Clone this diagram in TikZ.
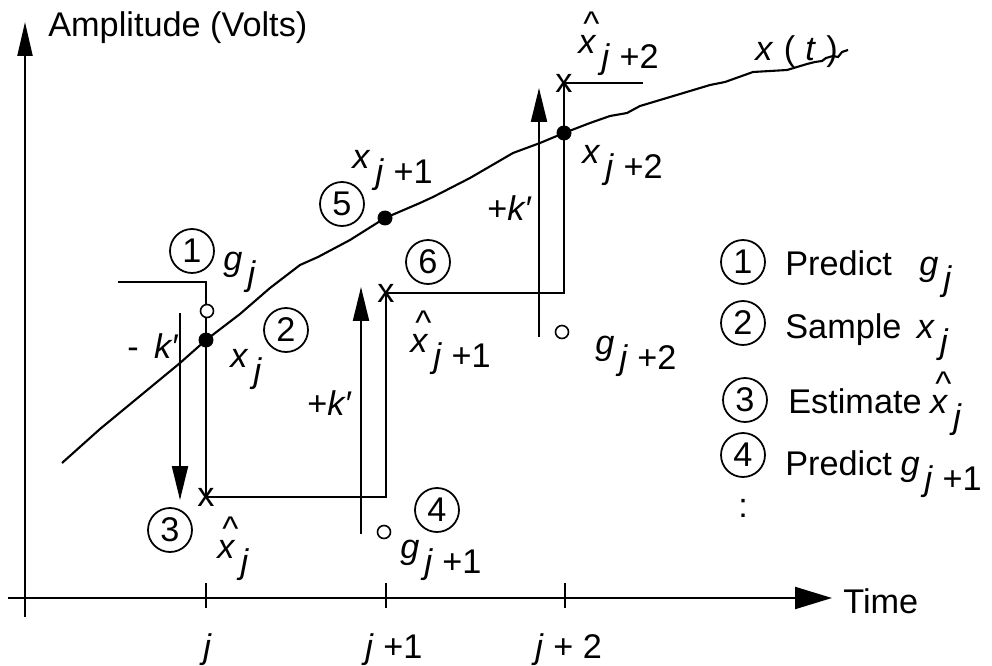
\documentclass[tikz,border=0pt]{standalone}
\usepackage{fontspec}
\setmainfont{Liberation Sans}
\usetikzlibrary{arrows.meta}

\newcommand{\lowsub}[2]{#1\hspace{0.15em}\raisebox{-0.45em}{#2}}
\newcommand{\xhat}{\makebox[0pt][l]{\hspace{0.15em}\raisebox{0.5em}{\textasciicircum}}\textit{x}}

\begin{document}
\begin{tikzpicture}[x=0.02cm, y=-0.02cm, font=\fontsize{19.5}{23}\selectfont]
    \tikzset{
        axis/.style={line width=1.25pt},
        stair/.style={line width=1.2pt},
        karrow/.style={line width=1.2pt, -{Triangle[length=0.68cm,width=0.32cm]}},
        sample/.style={circle, fill=black, minimum size=0.3cm, inner sep=0pt},
        pred/.style={circle, draw, fill=white, line width=0.9pt, minimum size=0.26cm, inner sep=0pt},
        xmark/.style={inner sep=0pt},
        num/.style={circle, draw, line width=1pt, minimum size=0.88cm, inner sep=0pt},
        lbl/.style={anchor=base west, inner sep=0pt}
    }

    \useasboundingbox (0,0) rectangle (992,666);

    % Draw axes
    \coordinate (yb) at (25,617);
    \coordinate (yt) at (25,22);
    \coordinate (tl) at (8,598);
    \coordinate (tr) at (832,598);
    \draw[axis, -{Triangle[length=0.68cm,width=0.3cm]}] (yb) -- (yt);
    \draw[axis, -{Triangle[length=0.74cm,width=0.44cm]}] (tl) -- (tr);
    \node[lbl] (ylab) at (48,36) {Amplitude (Volts)};
    \node[lbl] (tlab) at (843,613) {Time};

    % Ticks and their labels
    \foreach \tx in {206,386,565}
        \draw[axis] (\tx,583) -- (\tx,608);
    \node[lbl] (tk0) at (203,658) {\textit{j}};
    \node[lbl] (tk1) at (365,658) {\textit{j} +1};
    \node[lbl] (tk2) at (535,658) {\textit{j} + 2};

    % Signal x(t)
    \draw[stair] plot coordinates {(62,463) (100,429) (140,396) (180,363) (206,340)
        (240,314) (270,288) (300,265) (318,257) (350,240) (385,218) (420,203)
        (433,197) (470,178) (513,153) (540,143) (564,133) (590,123) (610,116)
        (627,113) (640,106) (670,97) (710,85) (725,82) (753,72) (787,70)
        (807,64) (815,62) (822,61) (826,58) (833,56) (838,57) (842,52) (848,50)};
    \node[lbl] (xt) at (755,60) {\textit{x}\hspace{0.3em}(\hspace{0.3em}\textit{t}\hspace{0.3em})};

    % Staircase of estimates
    \coordinate (s0) at (118,282);
    \coordinate (c1) at (206,282);
    \coordinate (e1) at (206,497);
    \coordinate (c2) at (386,497);
    \coordinate (e2) at (386,293);
    \coordinate (c3) at (564,293);
    \coordinate (e3) at (564,83);
    \coordinate (s4) at (643,83);
    \draw[stair] (s0) -- (c1) -- (e1) -- (c2) -- (e2) -- (c3) -- (e3) -- (s4);
    \node[xmark] (h1) at (e1) {x};
    \node[xmark] (h2) at (e2) {x};
    \node[xmark] (h3) at (e3) {x};

    % Step arrows
    \coordinate (k1a) at (180,313);
    \coordinate (k1b) at (180,500);
    \coordinate (k2a) at (361,534);
    \coordinate (k2b) at (361,287);
    \coordinate (k3a) at (539,337);
    \coordinate (k3b) at (539,88);
    \draw[karrow] (k1a) -- (k1b);
    \draw[karrow] (k2a) -- (k2b);
    \draw[karrow] (k3a) -- (k3b);
    \node[lbl] (km) at (127,358) {-\hspace{0.45em}\textit{k}′};
    \node[lbl] (kp1) at (307,415) {+\textit{k}′};
    \node[lbl] (kp2) at (487,220) {+\textit{k}′};

    % Samples and predictions
    \node[sample] (xj0) at (206,340) {};
    \node[sample] (xj1) at (385,218) {};
    \node[sample] (xj2) at (564,133) {};
    \node[pred] (gj0) at (207,311) {};
    \node[pred] (gj1) at (384,532) {};
    \node[pred] (gj2) at (562,332) {};

    % Labels on the plot
    \node[lbl] (lgj0) at (223,270) {\lowsub{\textit{g}}{\textit{j}}};
    \node[lbl] (lxj0) at (230,367) {\lowsub{\textit{x}}{\textit{j}}};
    \node[lbl] (lhj0) at (217,558) {\lowsub{\xhat}{\textit{j}}};
    \node[lbl] (lgj1) at (400,558) {\lowsub{\textit{g}}{\textit{j} +1}};
    \node[lbl] (lxj1) at (352,168) {\lowsub{\textit{x}}{\textit{j} +1}};
    \node[lbl] (lhj1) at (410,352) {\lowsub{\xhat}{\textit{j} +1}};
    \node[lbl] (lgj2) at (595,354) {\lowsub{\textit{g}}{\textit{j} +2}};
    \node[lbl] (lxj2) at (582,163) {\lowsub{\textit{x}}{\textit{j} +2}};
    \node[lbl] (lhj2) at (578,53) {\lowsub{\xhat}{\textit{j} +2}};

    % Step numbers
    \node[num] (n1) at (192,251) {1};
    \node[num] (n2) at (286,330) {2};
    \node[num] (n3) at (170,530) {3};
    \node[num] (n4) at (437,510) {4};
    \node[num] (n5) at (342,204) {5};
    \node[num] (n6) at (428,262) {6};

    % Legend
    \node[num] (l1) at (743,262) {1};
    \node[num] (l2) at (743,323) {2};
    \node[num] (l3) at (745,400) {3};
    \node[num] (l4) at (743,455) {4};
    \node[lbl] (p1) at (785,275) {Predict\hspace{0.8em}\lowsub{\textit{g}}{\textit{j}}};
    \node[lbl] (p2) at (785,338) {Sample\hspace{0.45em}\lowsub{\textit{x}}{\textit{j}}};
    \node[lbl] (p3) at (788,413) {Estimate\hspace{0.25em}\lowsub{\xhat}{\textit{j}}};
    \node[lbl] (p4) at (785,475) {Predict\hspace{0.25em}\lowsub{\textit{g}}{\textit{j} +1}};
    \node[lbl] (dots) at (738,517) {:};

\end{tikzpicture}
\end{document}
